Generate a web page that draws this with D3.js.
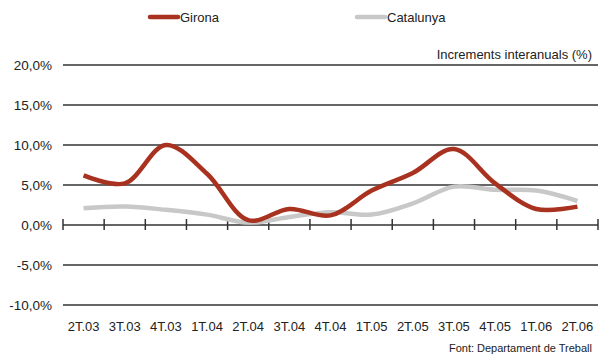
<!DOCTYPE html>
<html>
<head>
<meta charset="utf-8">
<script src="https://cdn.jsdelivr.net/npm/d3@7"></script>
<style>
  body { margin: 0; background: #fff; }
  text { font-family: "Liberation Sans", Arial, sans-serif; fill: #222; }
</style>
</head>
<body>
<script>
let w = 600
let h = 356

let quarters = ["2T.03","3T.03","4T.03","1T.04","2T.04","3T.04","4T.04","1T.05","2T.05","3T.05","4T.05","1T.06","2T.06"]
let girona    = [6.2, 5.2, 10.0, 6.4, 0.6, 2.0, 1.2, 4.3, 6.5, 9.5, 5.2, 2.0, 2.3]
let catalunya = [2.1, 2.3, 1.9, 1.3, 0.3, 1.0, 1.6, 1.3, 2.7, 4.8, 4.4, 4.3, 3.0]
let yTicks = [-10, -5, 0, 5, 10, 15, 20]

let svg = d3.select("body").append("svg")
            .attr("width", w)
            .attr("height", h)

let x = d3.scaleBand().domain(quarters).range([63, 598])
let y = d3.scaleLinear().domain([-10, 20]).range([305, 65])

// gridlines
svg.selectAll(".grid")
   .data(yTicks)
   .enter()
   .append("line")
   .attr("x1", 63)
   .attr("x2", 598)
   .attr("y1", d => y(d))
   .attr("y2", d => y(d))
   .attr("stroke", "#333")
   .attr("stroke-width", 1.5)

// y labels
let fmt = d => d.toFixed(1).replace(".", ",") + "%"
svg.selectAll(".ylab")
   .data(yTicks)
   .enter()
   .append("text")
   .attr("x", 52)
   .attr("y", d => y(d) + 5)
   .attr("text-anchor", "end")
   .style("font-size", "13.5px")
   .text(fmt)

// tick marks on zero line
let tickPos = quarters.map(q => x(q)).concat([x.range()[1]])
svg.selectAll(".tick")
   .data(tickPos)
   .enter()
   .append("line")
   .attr("x1", d => d)
   .attr("x2", d => d)
   .attr("y1", y(0) - 6)
   .attr("y2", y(0) + 5)
   .attr("stroke", "#333")
   .attr("stroke-width", 1.5)

// x labels
svg.selectAll(".xlab")
   .data(quarters)
   .enter()
   .append("text")
   .attr("x", d => x(d) + x.bandwidth() / 2)
   .attr("y", 331)
   .attr("text-anchor", "middle")
   .style("font-size", "13px")
   .text(d => d)

let line = d3.line()
             .x((d, i) => x(quarters[i]) + x.bandwidth() / 2)
             .y(d => y(d))
             .curve(d3.curveCatmullRom.alpha(0.5))

svg.append("path")
   .datum(catalunya)
   .attr("d", line)
   .attr("fill", "none")
   .attr("stroke", "#c8c8c8")
   .attr("stroke-width", 4.5)

svg.append("path")
   .datum(girona)
   .attr("d", line)
   .attr("fill", "none")
   .attr("stroke", "#a8321f")
   .attr("stroke-width", 4.5)

// legend
let legend = [["Girona", "#a8321f", 150], ["Catalunya", "#c8c8c8", 357]]
legend.forEach(l => {
    svg.append("line")
       .attr("x1", l[2]).attr("x2", l[2] + 28)
       .attr("y1", 17).attr("y2", 17)
       .attr("stroke", l[1])
       .attr("stroke-width", 4.5)
       .attr("stroke-linecap", "round")
    svg.append("text")
       .attr("x", l[2] + 30)
       .attr("y", 22)
       .style("font-size", "13px")
       .text(l[0])
})

svg.append("text")
   .attr("x", 592)
   .attr("y", 59)
   .attr("text-anchor", "end")
   .style("font-size", "13px")
   .text("Increments interanuals (%)")

svg.append("text")
   .attr("x", 592)
   .attr("y", 352)
   .attr("text-anchor", "end")
   .style("font-size", "11px")
   .text("Font: Departament de Treball")
</script>
</body>
</html>
